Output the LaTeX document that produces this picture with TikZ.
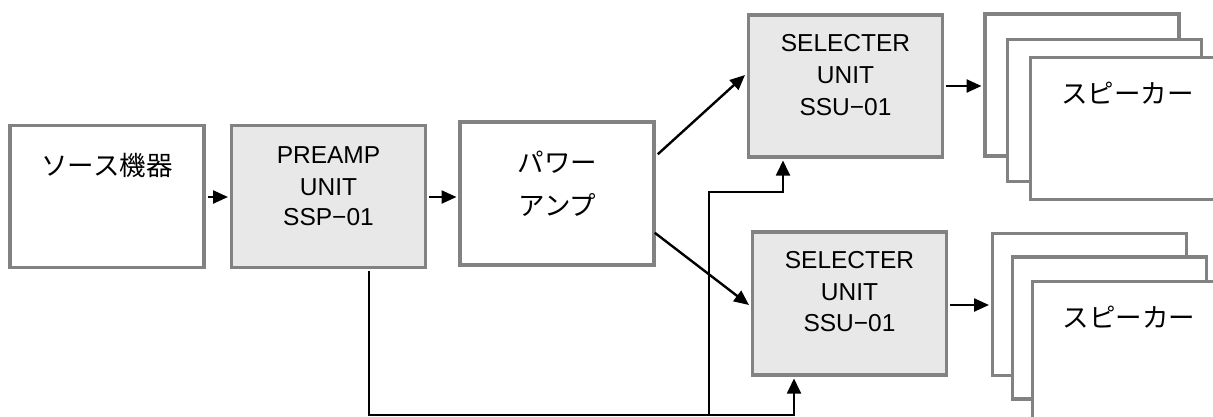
\documentclass[tikz,border=0pt]{standalone}
\usepackage{fontspec}
\setmainfont{Liberation Sans}
\newfontfamily\jpfont{Noto Sans CJK JP}
\usetikzlibrary{arrows.meta,calc}
\definecolor{boxgray}{HTML}{828282}
\definecolor{unitfill}{HTML}{E8E8E8}
\begin{document}
\begin{tikzpicture}[x=1pt,y=-1pt,
  box/.style={draw=boxgray, line width=3.5pt, fill=white, minimum width=194pt, minimum height=142pt, inner sep=0pt},
  unitbox/.style={box, fill=unitfill},
  lat/.style={font=\fontsize{24.5}{28}\selectfont, inner sep=0pt},
  jp/.style={font=\fontsize{26.5}{30}\selectfont\jpfont, inner sep=0pt},
  arr/.style={line width=2.4pt, -{Triangle[length=15pt,width=13pt]}},
  wire/.style={line width=1.8pt},
  warr/.style={wire, -{Triangle[length=15pt,width=14pt]}},
]
\useasboundingbox (0,0) rectangle (1213,416);
\fill[white] (0,0) rectangle (1213,416);

% boxes
\node[box] (src) at (107,196.5) {};
\node[unitbox] (pre) at (328.5,196.5) {};
\node[box, minimum height=143pt] (pow) at (557,193.5) {};
\node[unitbox] (sel1) at (845.5,86) {};
\node[unitbox, minimum height=143pt] (sel2) at (849.5,303.5) {};

% speaker stacks
\node[box] (spkAa) at (1082,85) {};
\node[box] (spkAb) at (1104.5,110.5) {};
\node[box] (spkAc) at (1127.5,128.5) {};
\node[box] (spkBa) at (1089.5,304.5) {};
\node[box] (spkBb) at (1109.5,328) {};
\node[box] (spkBc) at (1129.5,352.5) {};

% texts
\node[jp] (tsrc) at (107,165) {ソース機器};
\node[lat] (tpre1) at (328.5,155) {PREAMP};
\node[lat] (tpre2) at (328.5,187) {UNIT};
\node[lat] (tpre3) at (328.5,217) {SSP−01};
\node[jp] (tpow1) at (557.5,162) {パワー};
\node[jp] (tpow2) at (557.5,205) {アンプ};
\node[lat] (tsa1) at (845.5,43) {SELECTER};
\node[lat] (tsa2) at (845.5,75) {UNIT};
\node[lat] (tsa3) at (845.5,107) {SSU−01};
\node[lat] (tsb1) at (849.5,260) {SELECTER};
\node[lat] (tsb2) at (849.5,292) {UNIT};
\node[lat] (tsb3) at (849.5,323) {SSU−01};
\node[jp] (tspA) at (1127.5,93) {スピーカー};
\node[jp] (tspB) at (1129,317) {スピーカー};

% signal arrows
\draw[arr] ($(src.east)+(1.75,0.5)$) -- ($(pre.west)+(-1.75,0.5)$);
\draw[arr] ($(pre.east)+(1.75,0.5)$) -- ($(pow.west)+(-1.75,3.5)$);
\draw[arr] ($(pow.north east)+(2,34)$) -- ($(sel1.west)+(-1.75,-11)$);
\draw[arr] ($(pow.south east)+(-1,-34)$) -- ($(sel2.west)+(-1.75,1.5)$);
\draw[arr] ($(sel1.east)+(1.75,0)$) -- ($(spkAa.west)+(-1.75,1)$);
\draw[arr] ($(sel2.east)+(1.75,1.5)$) -- ($(spkBa.west)+(-1.75,0.5)$);

% control wiring
\coordinate (c1) at ($(pre.south)+(40.5,1.75)$);
\coordinate (c2) at (369,415);
\coordinate (j) at (709,415);
\coordinate (c3) at (794,415);
\coordinate (u1) at (709,192);
\coordinate (u2) at (783,192);
\draw[wire] (c1) -- (c2) -- (j);
\draw[warr] (j) -- (c3) -- ($(sel2.south)+(-55.5,1.75)$);
\draw[warr] (j) -- (u1) -- (u2) -- ($(sel1.south)+(-62.5,1.75)$);
\end{tikzpicture}
\end{document}
